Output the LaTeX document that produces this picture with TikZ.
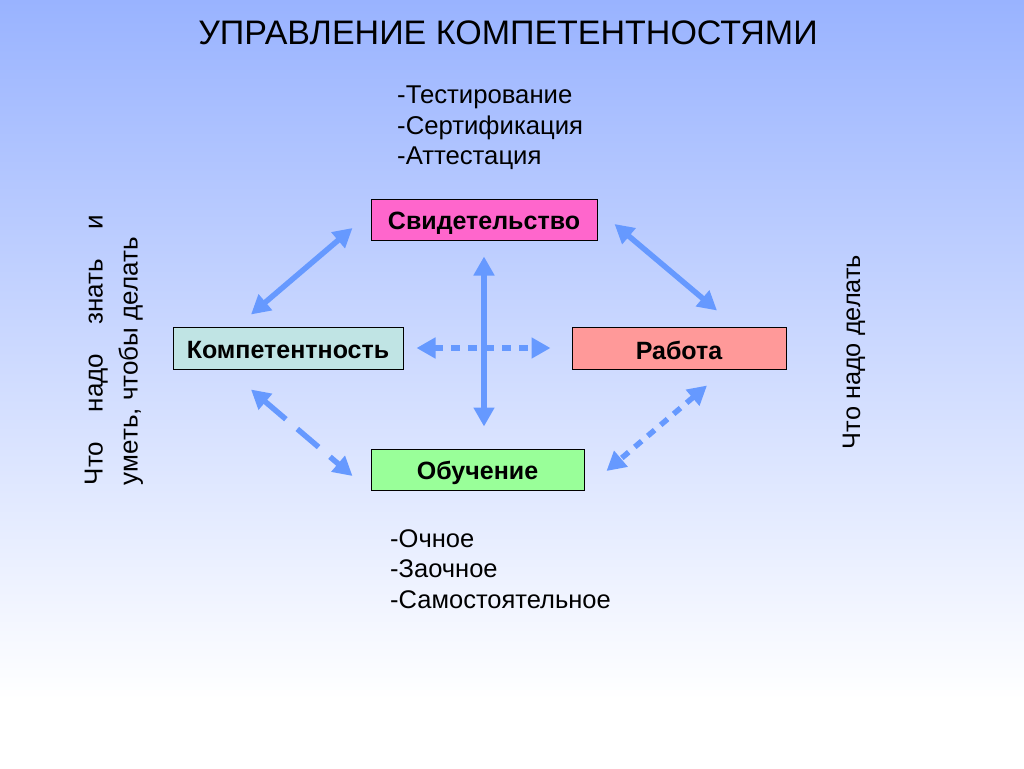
\documentclass[tikz,border=0pt]{standalone}
\usepackage{fontspec}
\setmainfont{Liberation Sans}
\usetikzlibrary{arrows.meta,calc}
\definecolor{bgtop}{HTML}{99B3FF}
\definecolor{abl}{HTML}{6699FF}
\definecolor{svidc}{HTML}{FF66CC}
\definecolor{kompc}{HTML}{C0E4E4}
\definecolor{rabc}{HTML}{FF9999}
\definecolor{obuchc}{HTML}{99FF99}
\tikzset{
  box/.style={draw=black, line width=1pt, inner sep=0pt, font=\fontsize{25}{28}\selectfont\bfseries},
  conn/.style={abl, line width=5.5pt, {Triangle[length=19pt,width=20pt]}-{Triangle[length=19pt,width=20pt]}},
  dotline/.style={dash pattern=on 9pt off 8pt},
  dashline/.style={dash pattern=on 28pt off 15pt},
  plain/.style={inner sep=0pt, font=\fontsize{25.7}{30.5}\selectfont, align=left},
}
\begin{document}
\begin{tikzpicture}[x=1pt,y=-1pt]
\useasboundingbox (0,0) rectangle (1024,768);
\shade[top color=bgtop, bottom color=white] (0,0) rectangle (1024,700);
\fill[white] (0,700) rectangle (1024,768);

\node[inner sep=0pt, font=\fontsize{34}{38}\selectfont] (title) at (508,33) {УПРАВЛЕНИЕ КОМПЕТЕНТНОСТЯМИ};

\node[box, fill=svidc, minimum width=226pt, minimum height=41pt] (svid) at (484,219.5) {};
\node[box, fill=kompc, minimum width=230pt, minimum height=42pt] (komp) at (288,348) {};
\node[box, fill=rabc, minimum width=214pt, minimum height=42pt] (rab) at (679,348) {};
\node[box, fill=obuchc, minimum width=213pt, minimum height=41pt] (obuch) at (477.5,469.5) {};
\node[box, draw=none] (svidt) at ($(svid.center)+(0,4)$) {Свидетельство};
\node[box, draw=none] (kompt) at ($(komp.center)+(0,2)$) {Компетентность};
\node[box, draw=none] (rabt) at ($(rab.center)+(0,2)$) {Работа};
\node[box, draw=none] (obucht) at ($(obuch.center)+(0,3.5)$) {Обучение};

\node[plain, anchor=west] (toplist) at (397,128) {-Тестирование\\-Сертификация\\-Аттестация};
\node[plain, anchor=west, font=\fontsize{25.5}{30.5}\selectfont] (botlist) at (390,569) {-Очное\\-Заочное\\-Самостоятельное};

\node[plain, rotate=90, font=\fontsize{26}{35}\selectfont] (lefttxt) at (114,350) {\makebox[270pt][s]{Что надо знать и}\\уметь, чтобы делать};
\node[plain, rotate=90, font=\fontsize{25.3}{30}\selectfont] (righttxt) at (854,352) {Что надо делать};

\draw[conn] ($(svid.west)+(-18,8.5)$) -- ($(komp.north)+(-37,-12)$);
\draw[conn] ($(svid.east)+(17,4.5)$) -- ($(rab.north)+(38,-16)$);
\draw[conn] ($(svid.south)+(0,16)$) -- ($(svid.south |- obuch.north)+(0,-22)$);
\draw[conn, dotline] ($(komp.east)+(13,0)$) -- ($(rab.west)+(-21,0)$);
\draw[conn, dashline] ($(komp.south)+(-37,20)$) -- ($(obuch.west)+(-18,6.5)$);
\draw[conn, dotline] ($(rab.south)+(28,16)$) -- ($(obuch.east)+(22,1.5)$);
\end{tikzpicture}
\end{document}
